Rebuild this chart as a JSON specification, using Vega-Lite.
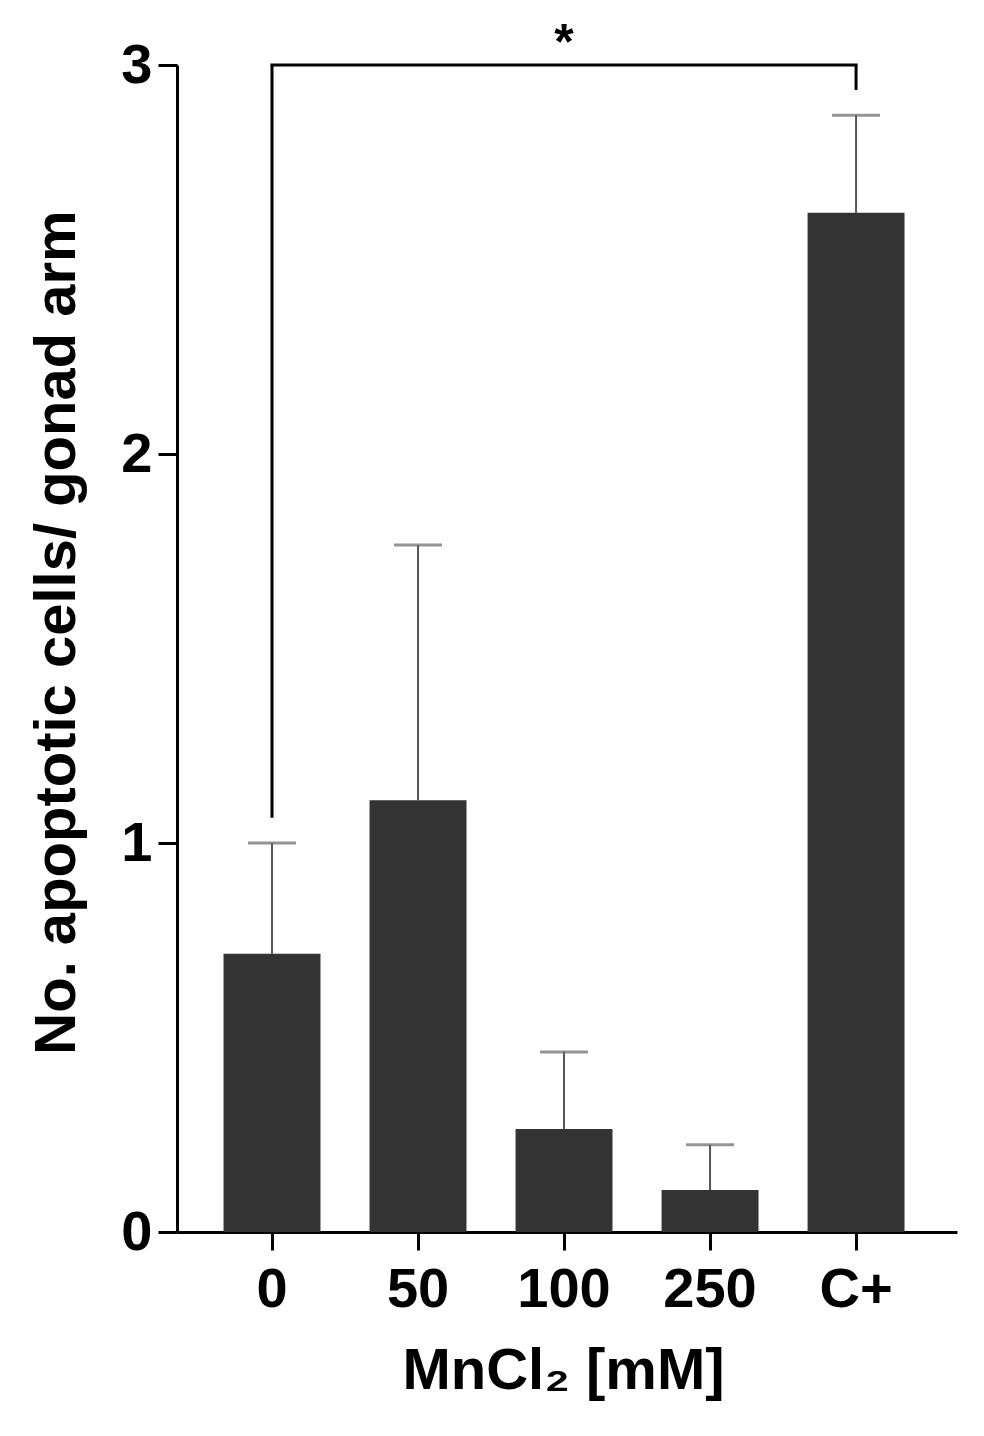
{
  "$schema": "https://vega.github.io/schema/vega-lite/v6.json",
  "autosize": {"type": "none"},
  "padding": {"left": 177, "top": 65, "right": 27, "bottom": 204},
  "width": 780,
  "height": 1167,
  "background": "white",
  "config": {
    "font": "Liberation Sans",
    "view": {"stroke": null},
    "axis": {
      "grid": false,
      "domainColor": "black",
      "domainWidth": 3,
      "tickColor": "black",
      "tickWidth": 3,
      "labelFont": "Liberation Sans",
      "labelFontSize": 56,
      "labelFontWeight": "bold",
      "labelColor": "black",
      "titleFont": "Liberation Sans",
      "titleFontSize": 58,
      "titleFontWeight": "bold",
      "titleColor": "black"
    }
  },
  "datasets": {
    "bars": [
      {"group": "0", "mean": 0.715, "upper": 1.0},
      {"group": "50", "mean": 1.11, "upper": 1.766},
      {"group": "100", "mean": 0.265, "upper": 0.463},
      {"group": "250", "mean": 0.108, "upper": 0.224},
      {"group": "C+", "mean": 2.62, "upper": 2.871}
    ],
    "legs": [
      {"group": "0", "low": 1.065, "high": 3},
      {"group": "C+", "low": 2.936, "high": 3}
    ],
    "span": [
      {"group": "0", "group2": "C+", "y": 3}
    ],
    "star": [
      {"group": "100", "y": 3, "label": "*"}
    ]
  },
  "layer": [
    {
      "data": {"name": "bars"},
      "mark": {"type": "bar", "color": "#333333"},
      "encoding": {
        "x": {
          "field": "group",
          "type": "nominal",
          "sort": null,
          "scale": {"domain": ["0", "50", "100", "250", "C+"], "paddingInner": 0.336, "paddingOuter": 0.339, "align": 0.47},
          "axis": {
            "title": "MnCl₂ [mM]",
            "labelAngle": 0,
            "tickSize": 18,
            "labelBaseline": "alphabetic",
            "labelPadding": 56,
            "titleX": 386,
            "titleY": 156,
            "titleAlign": "center",
            "titleBaseline": "alphabetic"
          }
        },
        "y": {
          "field": "mean",
          "type": "quantitative",
          "scale": {"domain": [0, 3], "nice": false},
          "axis": {
            "title": "No. apoptotic cells/ gonad arm",
            "values": [0, 1, 2, 3],
            "format": "d",
            "tickSize": 19,
            "labelPadding": 6,
            "labelBaseline": "middle",
            "titleAngle": -90,
            "titleX": -103,
            "titleY": 567,
            "titleAlign": "center",
            "titleBaseline": "alphabetic"
          }
        }
      }
    },
    {
      "data": {"name": "bars"},
      "mark": {"type": "rule", "color": "#555555", "strokeWidth": 2},
      "encoding": {
        "x": {"field": "group", "type": "nominal", "sort": null},
        "y": {"field": "mean", "type": "quantitative"},
        "y2": {"field": "upper"}
      }
    },
    {
      "data": {"name": "bars"},
      "mark": {"type": "tick", "color": "#666666", "thickness": 3, "size": 48},
      "encoding": {
        "x": {"field": "group", "type": "nominal", "sort": null},
        "y": {"field": "upper", "type": "quantitative"}
      }
    },
    {
      "data": {"name": "legs"},
      "mark": {"type": "rule", "color": "black", "strokeWidth": 3},
      "encoding": {
        "x": {"field": "group", "type": "nominal", "sort": null},
        "y": {"field": "low", "type": "quantitative"},
        "y2": {"field": "high"}
      }
    },
    {
      "data": {"name": "span"},
      "mark": {"type": "rule", "color": "black", "strokeWidth": 3, "strokeCap": "square"},
      "encoding": {
        "x": {"field": "group", "type": "nominal", "sort": null},
        "x2": {"field": "group2"},
        "y": {"field": "y", "type": "quantitative"}
      }
    },
    {
      "data": {"name": "star"},
      "mark": {"type": "text", "fontSize": 50, "fontWeight": "bold", "color": "black", "baseline": "alphabetic", "dy": -6},
      "encoding": {
        "x": {"field": "group", "type": "nominal", "sort": null},
        "y": {"field": "y", "type": "quantitative"},
        "text": {"field": "label"}
      }
    }
  ]
}
